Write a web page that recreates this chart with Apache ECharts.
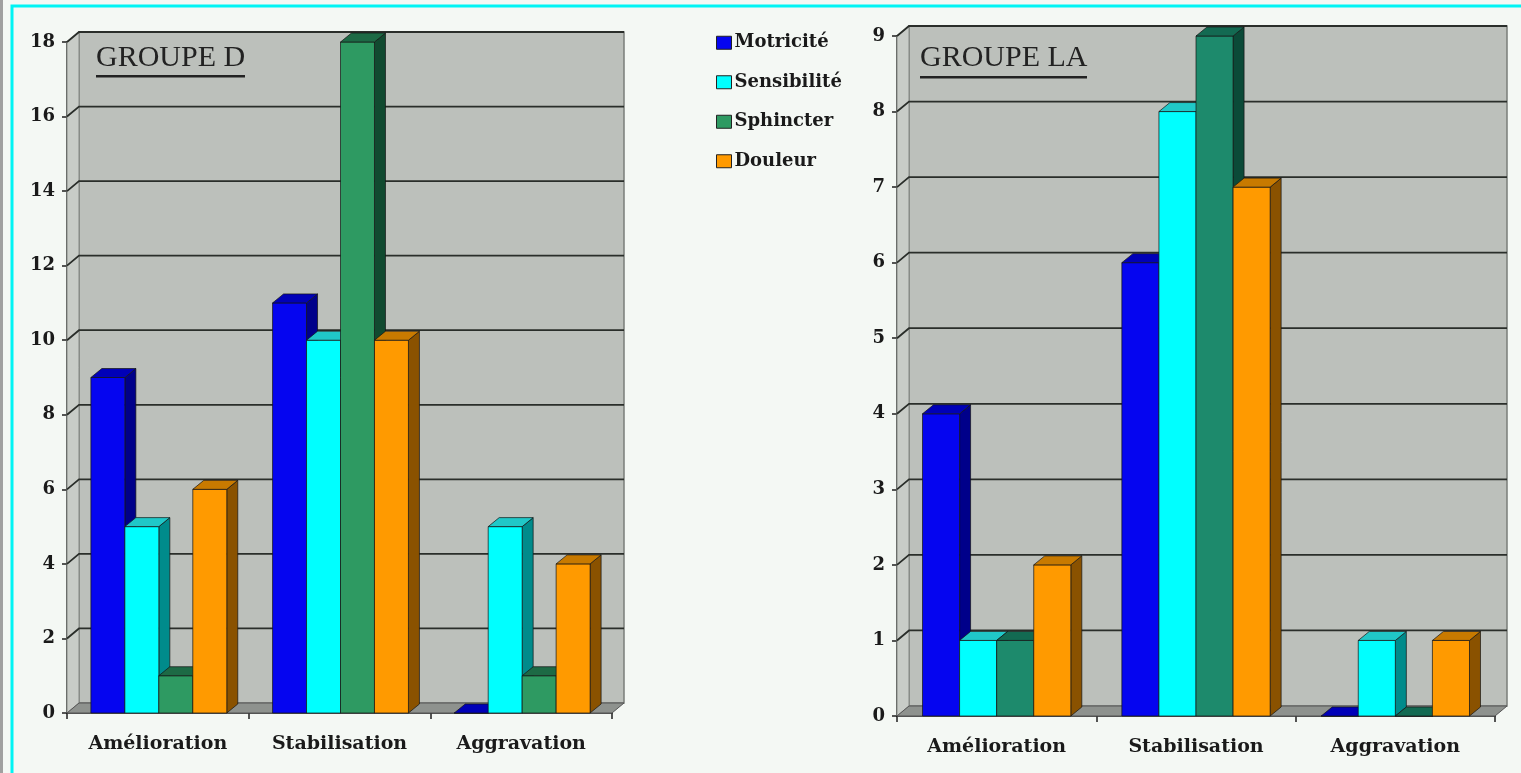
<!DOCTYPE html>
<html><head><meta charset="utf-8">
<script src="https://cdn.jsdelivr.net/npm/echarts@6/dist/echarts.min.js"></script>
<style>html,body{margin:0;padding:0;background:#f4f8f4;}#c{width:1521px;height:773px;}</style>
</head><body><div id="c"></div>
<script>
var categories = ['Amélioration', 'Stabilisation', 'Aggravation'];
var seriesNames = ['Motricité', 'Sensibilité', 'Sphincter', 'Douleur'];
var groupD_motricite = [9, 11, 0];
var groupD_sensibilite = [5, 10, 5];
var groupD_sphincter = [1, 18, 1];
var groupD_douleur = [6, 10, 4];
var groupLA_motricite = [4, 6, 0];
var groupLA_sensibilite = [1, 8, 1];
var groupLA_sphincter = [1, 9, 0];
var groupLA_douleur = [2, 7, 1];
var yTicksD = [0, 2, 4, 6, 8, 10, 12, 14, 16, 18];
var yTicksLA = [0, 1, 2, 3, 4, 5, 6, 7, 8, 9];

var palD = [
  {front: '#0505f0', side: '#00008a', top: '#0000b8'},
  {front: '#00ffff', side: '#008b8b', top: '#20c8c8'},
  {front: '#2e9a62', side: '#114a30', top: '#1d6a45'},
  {front: '#ff9a00', side: '#8a5200', top: '#c87a00'}
];
var palLA = [
  {front: '#0505f0', side: '#00008a', top: '#0000b8'},
  {front: '#00ffff', side: '#008b8b', top: '#20c8c8'},
  {front: '#1d8a6c', side: '#0b4a38', top: '#136a52'},
  {front: '#ff9a00', side: '#8a5200', top: '#c87a00'}
];

var DX = 12, DY = -10;

function wallRender(dx, dy) {
  return function (params, api) {
    var cs = params.coordSys;
    var x0 = cs.x, x1 = cs.x + cs.width, y0 = cs.y, y1 = cs.y + cs.height;
    var v = api.value(1);
    var y = api.coord([0, v])[1];
    var children = [];
    if (params.dataIndex === 0) {
      children.push({type: 'rect', shape: {x: x0 + dx, y: y0 + dy, width: x1 - x0, height: y1 - y0},
        style: {fill: '#bcc0bb', stroke: '#7a7e7a', lineWidth: 1.5}});
      children.push({type: 'polygon', shape: {points: [[x0, y0], [x0 + dx, y0 + dy], [x0 + dx, y1 + dy], [x0, y1]]},
        style: {fill: '#c8ccc7', stroke: '#858985', lineWidth: 1}});
      children.push({type: 'polygon', shape: {points: [[x0, y1], [x1, y1], [x1 + dx, y1 + dy], [x0 + dx, y1 + dy]]},
        style: {fill: '#8e928e', stroke: '#555', lineWidth: 1}});
    }
    if (v > 0) {
      children.push({type: 'polyline', shape: {points: [[x0, y], [x0 + dx, y + dy], [x1 + dx, y + dy]]},
        style: {fill: null, stroke: '#2a2e2a', lineWidth: 1.8}});
    }
    return {type: 'group', children: children};
  };
}

function barRender(si, ratio, shift, dx, dy, c) {
  return function (params, api) {
    var cat = api.value(0), val = api.value(1);
    var b = api.coord([cat, 0]), t = api.coord([cat, val]);
    var band = api.size([1, 0])[0];
    var w = band * ratio;
    var x = b[0] - 2 * w + si * w + shift;
    var yb = b[1], yt = t[1];
    var ln = {stroke: '#141414', lineWidth: 0.7};
    return {type: 'group', children: [
      {type: 'polygon', shape: {points: [[x + w, yt], [x + w + dx, yt + dy], [x + w + dx, yb + dy], [x + w, yb]]},
        style: Object.assign({fill: c.side}, ln)},
      {type: 'rect', shape: {x: x, y: yt, width: w, height: yb - yt},
        style: Object.assign({fill: c.front}, ln)},
      {type: 'polygon', shape: {points: [[x, yt], [x + dx, yt + dy], [x + w + dx, yt + dy], [x + w, yt]]},
        style: Object.assign({fill: c.top}, ln)}
    ]};
  };
}

function toData(arr) { return arr.map(function (v, i) { return [i, v]; }); }

var FONT = '"DejaVu Serif", serif';
function xAxisCfg(gi) {
  return {type: 'category', gridIndex: gi, data: categories,
    axisLine: {show: true, lineStyle: {color: '#1e1e1e', width: 1.5}},
    axisTick: {show: true, length: 6, lineStyle: {color: '#1e1e1e', width: 1.5}},
    axisLabel: {margin: 22, color: '#1a1a1a', fontFamily: FONT, fontWeight: 'bold', fontSize: 19},
    splitLine: {show: false}};
}
function yAxisCfg(gi, max, interval) {
  return {type: 'value', gridIndex: gi, min: 0, max: max, interval: interval,
    axisLine: {show: true, lineStyle: {color: '#1e1e1e', width: 1.5}},
    axisTick: {show: true, length: 5, lineStyle: {color: '#1e1e1e', width: 1.5}},
    axisLabel: {margin: 12, color: '#1a1a1a', fontFamily: FONT, fontWeight: 'bold', fontSize: 18},
    splitLine: {show: false}};
}

var dSets = [groupD_motricite, groupD_sensibilite, groupD_sphincter, groupD_douleur];
var laSets = [groupLA_motricite, groupLA_sensibilite, groupLA_sphincter, groupLA_douleur];

var series = [];
series.push({type: 'custom', name: 'wallD', xAxisIndex: 0, yAxisIndex: 0, clip: false, silent: true,
  renderItem: wallRender(DX, DY), data: yTicksD.map(function (v) { return [0, v]; }), z: 1});
series.push({type: 'custom', name: 'wallLA', xAxisIndex: 1, yAxisIndex: 1, clip: false, silent: true,
  renderItem: wallRender(DX, DY), data: yTicksLA.map(function (v) { return [0, v]; }), z: 1});
seriesNames.forEach(function (n, si) {
  series.push({type: 'custom', name: n, xAxisIndex: 0, yAxisIndex: 0, clip: false, z: 2,
    itemStyle: {color: palD[si].front},
    renderItem: barRender(si, 0.187, 1, 11, -9, palD[si]), data: toData(dSets[si])});
});
seriesNames.forEach(function (n, si) {
  series.push({type: 'custom', name: n, xAxisIndex: 1, yAxisIndex: 1, clip: false, z: 2,
    itemStyle: {color: palLA[si].front},
    renderItem: barRender(si, 0.186, 0, 11, -9, palLA[si]), data: toData(laSets[si])});
});

var chart = echarts.init(document.getElementById('c'));
chart.setOption({
  backgroundColor: '#f4f8f4',
  animation: false,
  grid: [
    {left: 67, top: 42, width: 545, height: 671},
    {left: 897, top: 36, width: 598, height: 680}
  ],
  xAxis: [xAxisCfg(0), xAxisCfg(1)],
  yAxis: [yAxisCfg(0, 18, 2), yAxisCfg(1, 9, 1)],
  legend: {data: seriesNames, orient: 'vertical', left: 711, top: 18, itemGap: 0,
    itemWidth: 15, itemHeight: 13, icon: 'rect', itemStyle: {borderColor: '#222', borderWidth: 1},
    textStyle: {fontFamily: FONT, fontWeight: 'bold', fontSize: 18, color: '#1a1a1a', lineHeight: 39.5, padding: [0, 0, 0, -2]}},
  graphic: [
    {type: 'rect', shape: {x: 12, y: 6, width: 1540, height: 800}, style: {fill: null, stroke: '#00f4f4', lineWidth: 3}, z: 100},
    {type: 'rect', shape: {x: 0, y: 0, width: 3, height: 773}, style: {fill: '#a0a0a0'}, z: 100},
    {type: 'text', x: 96, y: 43, style: {text: 'GROUPE D', font: '30px "Liberation Serif"', fill: '#222'}, z: 50},
    {type: 'rect', shape: {x: 96, y: 75, width: 149, height: 2.5}, style: {fill: '#222'}, z: 50},
    {type: 'text', x: 920, y: 43, style: {text: 'GROUPE LA', font: '30px "Liberation Serif"', fill: '#222'}, z: 50},
    {type: 'rect', shape: {x: 920, y: 76, width: 167, height: 2.5}, style: {fill: '#222'}, z: 50}
  ],
  series: series
});
</script>
</body></html>
